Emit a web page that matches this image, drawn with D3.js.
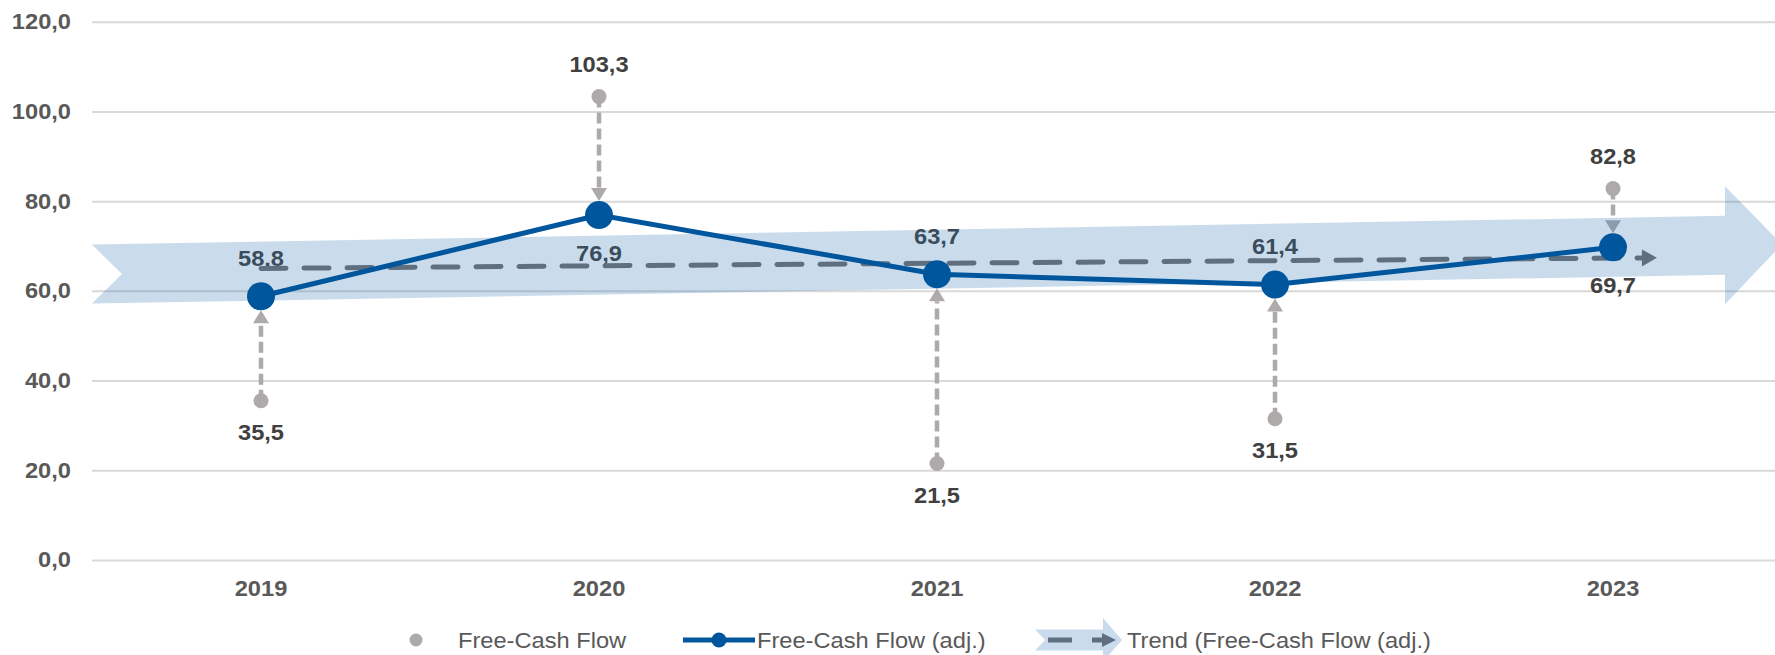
<!DOCTYPE html>
<html><head><meta charset="utf-8">
<script src="https://cdn.jsdelivr.net/npm/d3@7"></script>
<style>html,body{margin:0;padding:0;background:#fff;} svg{display:block;font-family:"Liberation Sans",Arial,sans-serif;}</style>
</head><body><svg id="c" width="1775" height="655"></svg>
<script>
// ---- data ----
const years = ["2019", "2020", "2021", "2022", "2023"];
const fcf = [35.5, 103.3, 21.5, 31.5, 82.8];
const fcfAdj = [58.8, 76.9, 63.7, 61.4, 69.7];
const trendLine = [65.0, 67.3];   // dashed trend at 2019 and 2023
const trendBand = [64.4, 69.7];   // centre of broad arrow at 2019 and 2023
const yTicks = [0, 20, 40, 60, 80, 100, 120];
const seriesNames = ["Free-Cash Flow", "Free-Cash Flow (adj.)", "Trend (Free-Cash Flow (adj.)"];

// ---- style ----
const FS = 21.5, STRETCH = 1.1;
const BLUE = "#00569c", GREY = "#aeaaaa", TREND = "#5f6f7f";
const BAND_FILL = "rgb(43,115,179)", BAND_OP = 0.25;
const LABEL = "#404040", AXIS = "#595959";

const svg = d3.select("#c");
const x = d3.scaleBand().domain(years).range([92, 1782]).padding(0);
const y = d3.scaleLinear().domain([0, 120]).range([560, 21.7]);
const xc = d => x(d) + x.bandwidth() / 2;
const xi = d3.scaleLinear().domain([0, years.length - 1]).range([xc(years[0]), xc(years[years.length - 1])]);
const fmt = v => d3.format(".1f")(v).replace(".", ",");
const st = (px, py) => `translate(${px},${py}) scale(${STRETCH},1)`;

// gridlines + y labels
const ya = svg.append("g").attr("transform", "translate(92,0)")
  .call(d3.axisLeft(y).tickValues(yTicks).tickSize(-(1775 - 92)).tickFormat(fmt));
ya.select(".domain").remove();
ya.selectAll("line").attr("stroke", "#d9d9d9").attr("stroke-width", 2);
ya.selectAll("text").attr("x", null).attr("transform", `translate(-21,0) scale(${STRETCH},1)`)
  .attr("font-size", FS).attr("font-weight", "bold").attr("fill", AXIS)
  .attr("font-family", '"Liberation Sans",Arial,sans-serif');

// x labels
const xa = svg.append("g").attr("transform", "translate(0,560)")
  .call(d3.axisBottom(x).tickSize(0).tickPadding(21));
xa.select(".domain").remove();
xa.selectAll("text").attr("transform", `scale(${STRETCH},1)`)
  .attr("font-size", FS).attr("font-weight", "bold").attr("fill", AXIS)
  .attr("font-family", '"Liberation Sans",Arial,sans-serif');

const R = 14;
// grey dashed arrows and dots
years.forEach((yr, i) => {
  const cx = xc(yr), y1 = y(fcf[i]), y2 = y(fcfAdj[i]);
  const dir = Math.sign(y2 - y1);
  const tip = y2 - dir * R, base = tip - dir * 13;
  svg.append("line").attr("x1", cx).attr("x2", cx).attr("y1", y1).attr("y2", base)
    .attr("stroke", GREY).attr("stroke-width", 4.5).attr("stroke-dasharray", "11,5");
  svg.append("path").attr("d", `M${cx - 8},${base}L${cx + 8},${base}L${cx},${tip}Z`).attr("fill", GREY);
  svg.append("circle").attr("cx", cx).attr("cy", y1).attr("r", 7.5).attr("fill", GREY);
});

// labels
function label(txt, px, py) {
  svg.append("text").attr("transform", st(px, py)).attr("text-anchor", "middle").attr("dy", "0.35em")
    .attr("font-size", FS).attr("font-weight", "bold").attr("fill", LABEL).text(txt);
}
years.forEach((yr, i) => {
  const up = fcf[i] > fcfAdj[i];
  label(fmt(fcf[i]), xc(yr), y(fcf[i]) + (up ? -32 : 32));
  label(fmt(fcfAdj[i]), xc(yr), y(fcfAdj[i]) + (up ? 38 : -38));
});

// broad trend arrow (band)
const bandAt = t => y(trendBand[0] + (trendBand[1] - trendBand[0]) * t / (years.length - 1));
const tL = xi.invert(x.range()[0]), tTip = xi.invert(x.range()[1]);
const xL = xi(tL), xTip = xi(tTip), xBase = xTip - 57;
const tBase = xi.invert(xBase);
const hw = 29.5, hh = 59;
const bandPts = [
  [xL, bandAt(tL) - hw], [xBase, bandAt(tBase) - hw], [xBase, bandAt(tBase) - hh],
  [xTip, bandAt(tTip)], [xBase, bandAt(tBase) + hh], [xBase, bandAt(tBase) + hw],
  [xL, bandAt(tL) + hw], [xL + 30, bandAt(tL)]
];
svg.append("path").attr("d", "M" + bandPts.map(p => p.join(",")).join("L") + "Z")
  .attr("fill", BAND_FILL).attr("fill-opacity", BAND_OP);

// dashed trend line with arrow
const trendAt = t => y(trendLine[0] + (trendLine[1] - trendLine[0]) * t / (years.length - 1));
const tEnd = 4.13;
const x0 = xi(0), xe = xi(tEnd), xs = xe - 15;
svg.append("line").attr("x1", x0).attr("y1", trendAt(0)).attr("x2", xs).attr("y2", trendAt(xi.invert(xs)))
  .attr("stroke", TREND).attr("stroke-width", 5).attr("stroke-dasharray", "25,18").attr("stroke-linecap", "round");
svg.append("path").attr("d", `M${xs},${trendAt(xi.invert(xs)) - 8.5}L${xe},${trendAt(tEnd)}L${xs},${trendAt(xi.invert(xs)) + 8.5}Z`)
  .attr("fill", TREND);

// adjusted FCF line + markers
const line = d3.line().x((d, i) => xc(years[i])).y(d => y(d));
svg.append("path").attr("d", line(fcfAdj)).attr("fill", "none").attr("stroke", BLUE).attr("stroke-width", 5);
svg.selectAll(".mk").data(fcfAdj).enter().append("circle")
  .attr("cx", (d, i) => xc(years[i])).attr("cy", d => y(d)).attr("r", R).attr("fill", BLUE);

// legend
const LY = 640;
function ltext(txt, px) {
  svg.append("text").attr("transform", st(px, LY)).attr("dy", "0.35em")
    .attr("font-size", FS).attr("fill", AXIS).text(txt);
}
svg.append("circle").attr("cx", 416).attr("cy", LY).attr("r", 6.5).attr("fill", GREY);
ltext(seriesNames[0], 458);
svg.append("line").attr("x1", 683).attr("x2", 755).attr("y1", LY).attr("y2", LY).attr("stroke", BLUE).attr("stroke-width", 5);
svg.append("circle").attr("cx", 719).attr("cy", LY).attr("r", 7.5).attr("fill", BLUE);
ltext(seriesNames[1], 757);
svg.append("path").attr("d", `M1035,${LY - 10.5}L1103,${LY - 10.5}L1103,${LY - 22}L1122,${LY}L1103,${LY + 22}L1103,${LY + 10.5}L1035,${LY + 10.5}L1045,${LY}Z`)
  .attr("fill", BAND_FILL).attr("fill-opacity", BAND_OP);
svg.append("line").attr("x1", 1048).attr("x2", 1102).attr("y1", LY).attr("y2", LY)
  .attr("stroke", TREND).attr("stroke-width", 5).attr("stroke-dasharray", "24,20");
svg.append("path").attr("d", `M1102,${LY - 7}L1116,${LY}L1102,${LY + 7}Z`).attr("fill", TREND);
ltext(seriesNames[2], 1127);
</script></body></html>
